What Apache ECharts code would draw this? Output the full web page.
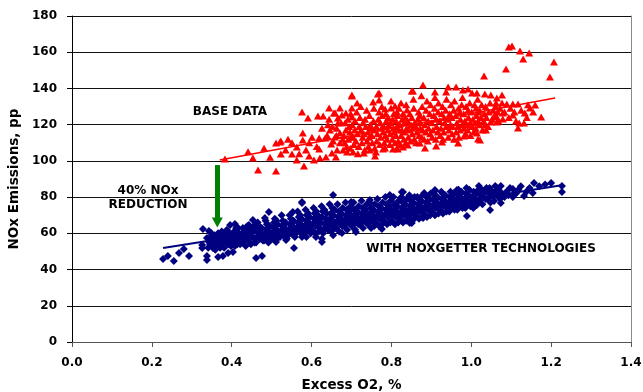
<!DOCTYPE html>
<html>
<head>
<meta charset="utf-8">
<title>NOx Emissions vs Excess O2</title>
<script src="https://cdn.jsdelivr.net/npm/echarts@6.0.0/dist/echarts.min.js"></script>
<style>
  html, body { margin: 0; padding: 0; background: #ffffff; }
  #chart { width: 643px; height: 392px; }
</style>
</head>
<body>
<div id="chart"></div>
<script>
// Axis ticks
const xTicks = [0.0, 0.2, 0.4, 0.6, 0.8, 1.0, 1.2, 1.4];
const xTickLabels = ['0.0', '0.2', '0.4', '0.6', '0.8', '1.0', '1.2', '1.4'];
const yTicks = [0, 20, 40, 60, 80, 100, 120, 140, 160, 180];
const yTickLabels = ['0', '20', '40', '60', '80', '100', '120', '140', '160', '180'];

// Base data: [excess O2 %, NOx ppm]
const baseData = [
  [0.383,101],[0.441,105],[0.453,101.6],[0.466,95],[0.481,107],[0.496,102],[0.511,94.4],[0.511,109.9],
  [0.521,110.4],[0.523,111],[0.523,103.8],[0.535,106],[0.541,112],[0.551,110],[0.551,103.8],[0.563,100.5],
  [0.563,107.7],[0.569,104],[0.578,115.4],[0.578,111.5],[0.576,127],[0.591,123.7],[0.581,97.2],[0.586,106],
  [0.594,110],[0.594,102.7],[0.601,113],[0.606,100.5],[0.613,108],[0.616,124.8],[0.619,112.6],[0.619,106.6],
  [0.621,101.6],[0.626,118],[0.629,124.8],[0.634,112.6],[0.636,102.2],[0.639,114],[0.641,120],[0.644,129.2],
  [0.644,123],[0.646,117],[0.649,109.3],[0.651,104.4],[0.652,119],[0.654,111],[0.656,126.4],[0.659,113.2],
  [0.659,126.4],[0.661,102.2],[0.662,114],[0.663,118],[0.664,106],[0.666,120.9],[0.666,123.7],[0.671,115.4],
  [0.671,110],[0.671,129.2],[0.674,121],[0.676,125.3],[0.678,112],[0.686,126.4],[0.689,104.9],[0.701,136.4],
  [0.701,129.2],[0.701,124.2],[0.701,135.8],[0.704,104.9],[0.714,132],[0.731,104.4],[0.746,106],[0.754,132.5],
  [0.759,102.7],[0.761,104.9],[0.766,136.9],[0.769,137.5],[0.769,133.6],[0.779,106.6],[0.784,107.1],[0.784,128.7],
  [0.799,129.2],[0.804,106.6],[0.809,130.3],[0.814,107.1],[0.814,127],[0.816,106.6],[0.824,132],[0.829,107.7],
  [0.839,128.1],[0.841,108.8],[0.851,138.6],[0.854,138.6],[0.871,109.9],[0.879,141.9],[0.884,107.1],[0.909,138],
  [0.912,108.2],[0.927,110.4],[0.937,138],[0.942,140.8],[0.962,140.8],[0.967,109.9],[0.979,139.1],[0.982,113.7],
  [0.992,139.7],[1.002,137.5],[1.014,137.5],[1.014,115.4],[1.017,112.1],[1.022,111.5],[1.032,146.9],[1.034,136.9],
  [1.034,119.8],[1.037,117.1],[1.049,136.4],[1.049,121.5],[1.062,132],[1.064,134.7],[1.064,124.2],[1.064,121.5],
  [1.077,136.4],[1.077,132],[1.079,123.1],[1.079,126.4],[1.087,150.7],[1.089,131.4],[1.094,162.9],[1.102,163.4],
  [1.104,131.4],[1.104,125.3],[1.117,131.4],[1.117,118.2],[1.12,120.9],[1.122,160.7],[1.13,156.3],[1.132,120.9],
  [1.134,126.4],[1.145,159.6],[1.147,129.2],[1.16,130.9],[1.175,124.2],[1.197,146.3],[1.207,154.6],
  [0.679,106],[0.683,110],[0.681,114],[0.686,117],[0.684,121],[0.688,108],[0.692,112],[0.694,119],[0.691,123],
  [0.697,107],[0.699,113],[0.696,116],[0.702,120],[0.698,126],
  [0.706,109],[0.704,113],[0.708,117],[0.711,111],[0.709,122],[0.713,127],[0.716,104],[0.718,108],[0.715,115],
  [0.719,119],[0.721,124],[0.723,130],
  [0.726,110],[0.728,113],[0.724,117],[0.729,121],[0.733,106],[0.731,115],[0.736,119],[0.734,123],[0.738,128],[0.739,111],
  [0.742,108],[0.744,113],[0.741,116],[0.747,120],[0.745,125],[0.749,118],[0.752,110],[0.751,114],[0.755,122],
  [0.757,117],[0.756,129],[0.758,107],
  [0.763,111],[0.765,115],[0.762,119],[0.767,123],[0.769,127],[0.771,109],[0.773,113],[0.775,118],[0.772,121],
  [0.777,125],[0.776,130],[0.779,116],
  [0.782,110],[0.785,114],[0.781,119],[0.787,122],[0.786,126],[0.789,112],[0.791,117],[0.793,120],[0.792,124],
  [0.796,109],[0.797,115],[0.798,121],[0.799,133],
  [0.802,112],[0.805,118],[0.803,123],[0.807,116],[0.806,126],[0.809,110],[0.811,114],[0.813,119],[0.812,122],
  [0.815,125],[0.817,111],[0.818,117],[0.819,129],
  [0.822,109],[0.824,114],[0.821,120],[0.826,117],[0.827,123],[0.829,126],[0.831,112],[0.833,116],[0.832,121],
  [0.836,110],[0.835,124],[0.838,118],[0.837,131],
  [0.842,113],[0.844,117],[0.841,122],[0.846,126],[0.848,111],[0.849,120],[0.852,115],[0.853,118],[0.851,124],
  [0.856,129],[0.857,112],[0.858,121],[0.855,134],
  [0.862,110],[0.864,116],[0.861,119],[0.866,123],[0.868,127],[0.869,114],[0.872,118],[0.873,121],[0.871,125],
  [0.876,113],[0.877,130],[0.878,117],[0.875,136],
  [0.882,112],[0.884,120],[0.881,124],[0.886,116],[0.887,128],[0.889,133],[0.891,111],[0.893,118],[0.892,122],
  [0.896,126],[0.897,115],[0.898,131],
  [0.902,113],[0.904,117],[0.901,121],[0.906,125],[0.908,129],[0.909,135],[0.911,112],[0.913,119],[0.912,123],
  [0.916,116],[0.917,127],[0.918,132],
  [0.922,114],[0.924,118],[0.921,122],[0.926,126],[0.928,130],[0.929,112],[0.931,116],[0.933,121],[0.932,124],
  [0.936,128],[0.937,119],[0.938,134],
  [0.942,113],[0.944,117],[0.941,123],[0.946,126],[0.948,120],[0.949,131],[0.952,115],[0.953,119],[0.951,124],
  [0.956,128],[0.957,112],[0.958,133],
  [0.962,116],[0.964,121],[0.961,125],[0.966,119],[0.968,129],[0.969,113],[0.972,117],[0.973,123],[0.971,127],
  [0.976,131],[0.977,120],[0.978,135],
  [0.982,118],[0.984,122],[0.981,126],[0.986,115],[0.987,130],[0.989,120],[0.991,117],[0.993,124],[0.992,128],
  [0.996,132],[0.997,121],[0.998,114],
  [1.002,119],[1.004,123],[1.001,127],[1.006,116],[1.008,131],[1.009,121],[1.011,118],[1.013,125],[1.012,129],
  [1.016,134],[1.017,122],[1.018,127],
  [1.022,120],[1.024,124],[1.021,128],[1.026,131],[1.028,117],[1.031,122],[1.033,126],[1.036,130],[1.038,124],
  [1.042,119],[1.044,127],[1.047,132],[1.052,123],[1.055,128],[1.058,125],[1.061,130],[1.066,127],[1.068,122],
  [1.072,129],[1.083,127],[1.094,124],[1.098,129],[1.108,127],[1.112,122],[1.125,128],[1.139,124],[1.142,131],[1.155,127]
];

// With NOxGetter technologies: [excess O2 %, NOx ppm]
const noxgetterData = [
  [0.228,45.8],[0.240,47.5],[0.255,44.7],[0.268,49.1],[0.280,51.4],[0.293,47.5],[0.328,62.4],[0.326,53.6],
  [0.326,51.9],[0.338,47.5],[0.338,45.3],[0.338,57.4],[0.343,61.3],[0.351,54.7],[0.353,51.9],[0.358,58],
  [0.366,46.9],[0.371,54.7],[0.378,47.5],[0.383,60.2],[0.388,56.3],[0.391,49.1],[0.396,64.6],[0.403,49.7],
  [0.408,65.2],[0.411,63],[0.413,56.3],[0.418,60.2],[0.433,62.4],[0.443,64.6],[0.453,67.4],[0.461,46.4],
  [0.476,47.5],[0.483,68.5],[0.493,71.8],[0.506,63.5],[0.511,55.2],[0.536,56.3],[0.556,51.9],[0.576,76.8],
  [0.553,71.8],
  [1.157,87.8],[1.2,87.8],[1.227,86.1],[1.227,82.8],[1.019,86.1],[1.06,86.1],[1.074,86.1],[1.047,83.9],
  [1.057,77.9],[1.047,72.9],[1.074,76.8],[1.104,84.5],[1.104,80.1],[1.154,82.3],[1.132,80.6],[1.014,75.6],
  [0.989,69.6],[0.964,83.9],[0.909,83.4],[0.826,82.8],[0.851,65.7],
  [0.654,81.2],[0.699,77.3],[0.746,78.4],[0.796,81.2],[0.829,82.8],[0.882,82.3],[0.909,83.9],[0.576,77.3],
  [0.626,55.2],[0.626,57],[0.611,58],[0.654,59],[0.676,60.2],[0.711,60.7],[0.776,62.4],[0.846,65.7],
  [0.879,68.5],[0.576,58],
  [0.341,52],[0.344,55],[0.347,58],[0.349,60],[0.352,53],[0.355,56],[0.357,59],[0.359,51],[0.346,54],[0.356,57],
  [0.361,53],[0.363,57],[0.366,60],[0.368,55],[0.371,52],[0.373,58],[0.375,61],[0.377,54],[0.379,56],[0.369,59],
  [0.381,52],[0.383,56],[0.386,59],[0.388,62],[0.391,54],[0.393,57],[0.395,60],[0.398,53],[0.384,58],[0.397,56],
  [0.401,55],[0.403,58],[0.406,61],[0.408,53],[0.411,57],[0.413,60],[0.416,63],[0.418,55],[0.404,59],[0.414,54],[0.419,58],
  [0.421,54],[0.423,57],[0.426,60],[0.428,63],[0.431,56],[0.433,59],[0.435,53],[0.438,61],[0.425,55],[0.437,58],[0.439,64],
  [0.441,56],[0.443,59],[0.446,62],[0.448,54],[0.451,58],[0.453,61],[0.455,64],[0.458,57],[0.444,60],[0.457,55],[0.459,63],
  [0.461,55],[0.463,58],[0.466,61],[0.468,64],[0.471,57],[0.473,60],[0.475,63],[0.478,56],[0.465,66],[0.477,59],[0.469,62],
  [0.481,56],[0.483,59],[0.486,62],[0.488,65],[0.491,58],[0.493,61],[0.495,64],[0.498,57],[0.485,67],[0.497,60],[0.489,63],[0.492,55],
  [0.501,57],[0.503,60],[0.506,66],[0.508,68],[0.511,59],[0.513,62],[0.515,65],[0.518,58],[0.505,63],[0.517,61],[0.509,56],[0.512,67],
  [0.521,58],[0.523,61],[0.526,64],[0.528,67],[0.531,60],[0.533,63],[0.535,66],[0.538,57],[0.525,70],[0.537,62],[0.529,59],[0.532,65],
  [0.541,59],[0.543,62],[0.546,65],[0.548,68],[0.551,61],[0.553,64],[0.555,67],[0.558,58],[0.545,70],[0.557,63],[0.549,60],[0.552,66],
  [0.561,60],[0.563,63],[0.566,66],[0.568,69],[0.571,62],[0.573,65],[0.575,68],[0.578,59],[0.565,72],[0.577,64],[0.569,61],[0.572,70],
  [0.581,61],[0.583,64],[0.586,67],[0.588,70],[0.591,63],[0.593,66],[0.595,69],[0.598,60],[0.585,73],[0.597,65],[0.589,62],[0.592,71],[0.587,58],
  [0.601,62],[0.603,65],[0.606,68],[0.608,71],[0.611,64],[0.613,67],[0.615,70],[0.618,61],[0.605,74],[0.617,66],[0.609,60],[0.612,72],[0.619,69],
  [0.621,63],[0.623,66],[0.626,69],[0.628,72],[0.631,62],[0.633,65],[0.635,68],[0.638,71],[0.625,75],[0.637,64],[0.629,60],[0.632,73],[0.639,67],
  [0.641,62],[0.643,65],[0.646,68],[0.648,71],[0.651,64],[0.653,67],[0.655,70],[0.658,73],[0.645,76],[0.657,63],[0.649,61],[0.652,74],[0.659,66],
  [0.661,63],[0.663,66],[0.666,69],[0.668,72],[0.671,65],[0.673,68],[0.675,71],[0.678,74],[0.665,76],[0.677,64],[0.669,61],[0.672,70],[0.679,67],
  [0.681,64],[0.683,67],[0.686,70],[0.688,73],[0.691,66],[0.693,69],[0.695,72],[0.698,75],[0.685,77],[0.697,65],[0.689,62],[0.692,71],[0.699,68],
  [0.701,64],[0.703,67],[0.706,70],[0.708,73],[0.711,66],[0.713,69],[0.715,72],[0.718,75],[0.705,77],[0.717,65],[0.709,62],[0.712,71],[0.719,68],
  [0.721,65],[0.723,68],[0.726,71],[0.728,74],[0.731,67],[0.733,70],[0.735,73],[0.738,76],[0.725,78],[0.737,66],[0.729,63],[0.732,72],[0.739,69],
  [0.741,65],[0.743,68],[0.746,71],[0.748,74],[0.751,67],[0.753,70],[0.755,73],[0.758,76],[0.745,77],[0.757,64],[0.749,63],[0.752,72],[0.759,69],
  [0.761,66],[0.763,69],[0.766,72],[0.768,75],[0.771,68],[0.773,71],[0.775,74],[0.778,77],[0.765,79],[0.777,65],[0.769,64],[0.772,73],[0.779,70],
  [0.781,67],[0.783,70],[0.786,73],[0.788,76],[0.791,69],[0.793,72],[0.795,75],[0.798,78],[0.785,80],[0.797,66],[0.789,65],[0.792,74],[0.799,71],
  [0.801,67],[0.803,70],[0.806,73],[0.808,76],[0.811,69],[0.813,72],[0.815,75],[0.818,78],[0.805,80],[0.817,66],[0.809,65],[0.812,74],[0.819,71],
  [0.821,68],[0.823,71],[0.826,74],[0.828,77],[0.831,70],[0.833,73],[0.835,76],[0.838,79],[0.825,80],[0.837,67],[0.829,66],[0.832,75],[0.839,72],
  [0.841,69],[0.843,72],[0.846,75],[0.848,78],[0.851,71],[0.853,74],[0.855,77],[0.858,80],[0.845,81],[0.857,68],[0.849,67],[0.852,76],[0.859,73],
  [0.861,70],[0.863,73],[0.866,76],[0.868,79],[0.871,72],[0.873,75],[0.875,78],[0.878,81],[0.865,80],[0.877,69],[0.869,68],[0.872,77],[0.879,74],
  [0.881,71],[0.883,74],[0.886,77],[0.888,80],[0.891,73],[0.893,76],[0.895,79],[0.898,82],[0.885,81],[0.897,70],[0.889,69],[0.892,78],[0.899,75],
  [0.901,72],[0.903,75],[0.906,78],[0.908,81],[0.911,74],[0.913,77],[0.915,80],[0.918,71],[0.905,82],[0.917,76],[0.909,70],[0.912,79],
  [0.921,73],[0.923,76],[0.926,79],[0.928,82],[0.931,75],[0.933,78],[0.935,81],[0.938,72],[0.925,83],[0.937,77],[0.929,71],[0.932,80],
  [0.941,74],[0.943,77],[0.946,80],[0.948,83],[0.951,76],[0.953,79],[0.955,82],[0.958,73],[0.945,72],[0.957,78],[0.949,75],[0.952,81],
  [0.961,75],[0.963,78],[0.966,81],[0.968,84],[0.971,77],[0.973,80],[0.975,83],[0.978,74],[0.965,73],[0.977,79],[0.969,76],[0.972,82],
  [0.981,76],[0.983,79],[0.986,82],[0.988,85],[0.991,78],[0.993,81],[0.995,84],[0.998,75],[0.985,74],[0.997,80],[0.989,77],
  [1.001,77],[1.003,80],[1.006,83],[1.008,75],[1.011,79],[1.013,82],[1.015,78],[1.018,84],[1.005,74],
  [1.021,78],[1.023,81],[1.026,84],[1.028,76],[1.031,80],[1.033,83],[1.036,79],[1.038,85],
  [1.041,79],[1.043,82],[1.046,85],[1.048,77],[1.052,81],[1.055,80],[1.058,83],
  [1.064,81],[1.068,84],[1.072,79],[1.077,82],[1.083,80],[1.088,83],[1.093,81],[1.097,85],
  [1.112,82],[1.118,84],[1.124,86],[1.138,83],[1.146,85],[1.17,86],[1.185,87]
];

// Linear trend lines (end points)
const baseTrend = [[0.37, 100.5], [1.21, 134.7]];
const noxgetterTrend = [[0.228, 51.9], [1.23, 86.7]];

// Reduction arrow (start, tip)
const reductionArrow = [[0.364, 97.7], [0.364, 66.0]];

const chart = echarts.init(document.getElementById('chart'), null, { renderer: 'canvas' });

const FONT = 'DejaVu Sans';
const xStep = xTicks[1] - xTicks[0];
const yStep = yTicks[1] - yTicks[0];

const option = {
  animation: false,
  backgroundColor: '#ffffff',
  grid: { left: 72, right: 12, top: 16, bottom: 50, containLabel: false, outerBoundsMode: 'none' },
  xAxis: {
    type: 'value',
    min: xTicks[0],
    max: xTicks[xTicks.length - 1],
    interval: xStep,
    name: 'Excess O2, %',
    nameLocation: 'middle',
    nameGap: 36,
    nameTextStyle: { fontFamily: FONT, fontWeight: 'bold', fontSize: 13.5, color: '#000', verticalAlign: 'top' },
    axisLine: { show: true, lineStyle: { color: '#555', width: 1 } },
    axisTick: { show: true, inside: false, length: 5, lineStyle: { color: '#555' } },
    axisLabel: {
      margin: 15,
      fontFamily: FONT, fontWeight: 'bold', fontSize: 12, color: '#000',
      formatter: v => xTickLabels[Math.round((v - xTicks[0]) / xStep)]
    },
    splitLine: { show: false }
  },
  yAxis: [
    {
      type: 'value',
      min: yTicks[0],
      max: yTicks[yTicks.length - 1],
      interval: yStep,
      name: 'NOx Emissions, pp',
      nameLocation: 'middle',
      nameRotate: 90,
      nameGap: 49,
      nameTextStyle: { fontFamily: FONT, fontWeight: 'bold', fontSize: 13.5, color: '#000' },
      axisLine: { show: true, lineStyle: { color: '#000', width: 1 } },
      axisTick: { show: true, inside: false, length: 5, lineStyle: { color: '#000' } },
      axisLabel: {
        margin: 15,
        fontFamily: FONT, fontWeight: 'bold', fontSize: 12, color: '#000',
        formatter: v => yTickLabels[Math.round((v - yTicks[0]) / yStep)]
      },
      splitLine: { show: true, lineStyle: { color: '#111', width: 1 } }
    },
    {
      // right frame edge of the plot area
      type: 'value',
      position: 'right',
      min: yTicks[0],
      max: yTicks[yTicks.length - 1],
      interval: yStep,
      axisLine: { show: true, lineStyle: { color: '#8a8a8a', width: 1 } },
      axisTick: { show: false },
      axisLabel: { show: false },
      splitLine: { show: false }
    }
  ],
  series: [
    {
      name: 'BASE DATA',
      type: 'scatter',
      data: baseData,
      symbol: 'triangle',
      symbolSize: [8, 7],
      itemStyle: { color: '#ff0000', opacity: 1 },
      z: 2
    },
    {
      name: 'Base trend',
      type: 'line',
      data: baseTrend,
      symbol: 'none',
      lineStyle: { color: '#ff0000', width: 1.6 },
      z: 3
    },
    {
      name: 'WITH NOXGETTER TECHNOLOGIES',
      type: 'scatter',
      data: noxgetterData,
      symbol: 'diamond',
      symbolSize: [8, 8],
      itemStyle: { color: '#000080', opacity: 1 },
      z: 2
    },
    {
      name: 'NOxGetter trend',
      type: 'line',
      data: noxgetterTrend,
      symbol: 'none',
      lineStyle: { color: '#000080', width: 2 },
      z: 3
    },
    {
      name: 'Reduction',
      type: 'line',
      data: [],
      z: 4,
      markLine: {
        silent: true,
        symbol: ['none', 'triangle'],
        symbolSize: [11, 10],
        label: { show: false },
        lineStyle: { color: '#008000', width: 5, type: 'solid' },
        itemStyle: { color: '#008000' },
        data: [[{ coord: reductionArrow[0] }, { coord: reductionArrow[1] }]]
      }
    }
  ],
  graphic: [
    {
      type: 'text', x: 230, y: 112,
      style: { text: 'BASE DATA', font: 'bold 12px "DejaVu Sans"', fill: '#000', textAlign: 'center', textVerticalAlign: 'middle' }
    },
    {
      type: 'text', x: 148, y: 191,
      style: { text: '40% NOx', font: 'bold 12px "DejaVu Sans"', fill: '#000', textAlign: 'center', textVerticalAlign: 'middle' }
    },
    {
      type: 'text', x: 148, y: 205,
      style: { text: 'REDUCTION', font: 'bold 12px "DejaVu Sans"', fill: '#000', textAlign: 'center', textVerticalAlign: 'middle' }
    },
    {
      type: 'text', x: 481, y: 249,
      style: { text: 'WITH NOXGETTER TECHNOLOGIES', font: 'bold 12px "DejaVu Sans"', fill: '#000', textAlign: 'center', textVerticalAlign: 'middle' }
    }
  ]
};

chart.setOption(option);
</script>
</body>
</html>
